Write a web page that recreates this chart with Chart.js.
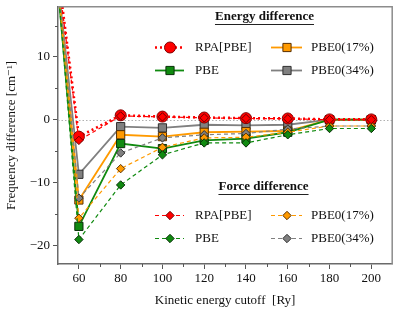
<!DOCTYPE html>
<html>
<head>
<meta charset="utf-8">
<script src="https://cdn.jsdelivr.net/npm/chart.js@4.4.1/dist/chart.umd.min.js"></script>
<style>
  html, body { margin: 0; padding: 0; background: #fff; }
  #wrap { width: 399px; height: 312px; position: relative; }
</style>
</head>
<body>
<div id="wrap"><canvas id="c" width="399" height="312"></canvas></div>
<script>
// ---- data ----
const cutoffs   = [50, 60, 80, 100, 120, 140, 160, 180, 200];
const eRPA      = [23.5, -2.7, 0.7, 0.5, 0.35, 0.25, 0.2, 0.05, 0.05];
const ePBE      = [21, -17.0, -3.8, -4.6, -3.3, -3.0, -2.0, 0, 0];
const ePBE0_17  = [21.5, -12.8, -2.4, -2.7, -2.0, -1.9, -1.8, 0, 0];
const ePBE0_34  = [22, -8.7, -1.1, -1.3, -0.8, -0.9, -0.8, 0, 0];
const fRPA      = [23, -3.3, 0.6, 0.45, 0.3, 0.2, 0.15, 0, 0];
const fPBE      = [21, -19.1, -10.4, -5.6, -3.7, -3.7, -2.4, -1.4, -1.4];
const fPBE0_17  = [21.5, -15.7, -7.8, -4.4, -2.9, -2.8, -2.0, -1.0, -1.0];
const fPBE0_34  = [22, -12.5, -5.3, -2.9, -2.4, -2.2, -1.5, -1.0, -1.0];
const seriesLabels = ['RPA[PBE]', 'PBE', 'PBE0(17%)', 'PBE0(34%)'];
const xMajorTicks = [60, 80, 100, 120, 140, 160, 180, 200];
const xMinorTicks = [70, 90, 110, 130, 150, 170, 190];
const yMajorTicks = [-20, -10, 0, 10];
const yMinorTicks = [-15, -5, 5, 15];
const legendTitles = ['Energy difference', 'Force difference'];

const FONT = "'Liberation Serif', 'DejaVu Serif', serif";
const RED = '#ff0000', GREEN = '#108a10', ORANGE = '#ff9a00', GRAY = '#808080';

function pts(arr) { return cutoffs.map((x, i) => ({x: x, y: arr[i]})); }

function energySet(label, data, color, dark, style, radius, dash, width) {
  return { label, data: pts(data), group: 'energy', borderColor: color, backgroundColor: color,
    borderWidth: width, borderDash: dash, pointStyle: style, pointRadius: radius,
    pointBorderColor: dark, pointBackgroundColor: color, pointBorderWidth: 1, clip: 0, tension: 0 };
}
function forceSet(label, data, color, dark) {
  return { label, data: pts(data), group: 'force', borderColor: color, backgroundColor: color,
    borderWidth: 1.2, borderDash: [4, 3], pointStyle: 'rectRot', pointRadius: 4.2,
    pointBorderColor: dark, pointBackgroundColor: color, pointBorderWidth: 1, clip: 0, tension: 0 };
}

const datasets = [
  forceSet(seriesLabels[0], fRPA, RED, '#700000'),
  forceSet(seriesLabels[1], fPBE, GREEN, '#0a300a'),
  forceSet(seriesLabels[2], fPBE0_17, ORANGE, '#5a3000'),
  forceSet(seriesLabels[3], fPBE0_34, GRAY, '#303030'),
  energySet(seriesLabels[0], eRPA, RED, '#800000', 'circle', 5.5, [2, 3], 2.6),
  energySet(seriesLabels[1], ePBE, GREEN, '#0a300a', 'rect', 5.8, [], 1.8),
  energySet(seriesLabels[2], ePBE0_17, ORANGE, '#5a3000', 'rect', 5.8, [], 1.8),
  energySet(seriesLabels[3], ePBE0_34, GRAY, '#303030', 'rect', 5.8, [], 1.8),
];

const framePlugin = {
  id: 'frame',
  beforeDatasetsDraw(chart) {
    const {ctx, chartArea: a, scales: {y}} = chart;
    ctx.save();
    ctx.strokeStyle = '#b0b0b0';
    ctx.lineWidth = 1;
    ctx.setLineDash([1.5, 2]);
    const y0 = Math.round(y.getPixelForValue(0)) + 0.5;
    ctx.beginPath(); ctx.moveTo(a.left, y0); ctx.lineTo(a.right, y0); ctx.stroke();
    ctx.restore();
  },
  afterDraw(chart) {
    const {ctx, chartArea: a, scales: {x, y}} = chart;
    ctx.save();
    ctx.strokeStyle = '#8c8c8c';
    ctx.lineWidth = 1.5;
    ctx.beginPath();
    ctx.moveTo(a.left, a.top); ctx.lineTo(a.right, a.top); ctx.lineTo(a.right, a.bottom);
    ctx.stroke();
    // minor ticks
    ctx.strokeStyle = '#555';
    ctx.lineWidth = 1;
    ctx.beginPath();
    xMinorTicks.forEach(v => { const px = Math.round(x.getPixelForValue(v)) + 0.5; ctx.moveTo(px, a.bottom); ctx.lineTo(px, a.bottom + 3); });
    yMinorTicks.forEach(v => { const py = Math.round(y.getPixelForValue(v)) + 0.5; ctx.moveTo(a.left, py); ctx.lineTo(a.left - 3, py); });
    ctx.stroke();
    // legends
    const groups = [
      {group: 'energy', title: legendTitles[0], tx: 264.5, ty: 17, rows: [47.5, 70.5]},
      {group: 'force', title: legendTitles[1], tx: 263.5, ty: 187, rows: [215.5, 238.5]},
    ];
    const cols = [{x0: 155, x1: 184, mx: 170, tx: 195}, {x0: 271, x1: 302, mx: 287, tx: 311}];
    const placement = {'RPA[PBE]': [0, 0], 'PBE': [0, 1], 'PBE0(17%)': [1, 0], 'PBE0(34%)': [1, 1]};
    groups.forEach(g => {
      ctx.font = 'bold 13px ' + FONT;
      ctx.fillStyle = '#111';
      ctx.textAlign = 'center';
      ctx.textBaseline = 'middle';
      ctx.fillText(g.title, g.tx, g.ty);
      const w = ctx.measureText(g.title).width;
      ctx.strokeStyle = '#222';
      ctx.lineWidth = 1;
      ctx.setLineDash([]);
      ctx.beginPath(); ctx.moveTo(g.tx - w / 2, g.ty + 7.5); ctx.lineTo(g.tx + w / 2, g.ty + 7.5); ctx.stroke();
      chart.data.datasets.forEach(ds => {
        if (ds.group !== g.group) return;
        const [ci, ri] = placement[ds.label];
        const c = cols[ci], yy = g.rows[ri];
        ctx.save();
        ctx.strokeStyle = ds.borderColor;
        ctx.lineWidth = ds.borderWidth;
        ctx.setLineDash(ds.borderDash || []);
        ctx.beginPath(); ctx.moveTo(c.x0, yy); ctx.lineTo(c.x1, yy); ctx.stroke();
        ctx.setLineDash([]);
        ctx.fillStyle = ds.pointBackgroundColor;
        ctx.strokeStyle = ds.pointBorderColor;
        ctx.lineWidth = ds.pointBorderWidth;
        Chart.helpers.drawPoint(ctx, {pointStyle: ds.pointStyle, radius: ds.pointRadius, rotation: 0, borderWidth: 1}, c.mx, yy);
        ctx.restore();
        ctx.font = '13px ' + FONT;
        ctx.fillStyle = '#111';
        ctx.textAlign = 'left';
        ctx.textBaseline = 'middle';
        ctx.fillText(ds.label, c.tx, yy);
      });
    });
    ctx.restore();
  }
};

new Chart(document.getElementById('c'), {
  type: 'line',
  data: { datasets },
  plugins: [framePlugin],
  options: {
    responsive: false,
    animation: false,
    events: [],
    layout: { padding: { top: 5, right: 5, left: 0, bottom: 0 } },
    plugins: { legend: { display: false }, tooltip: { enabled: false } },
    scales: {
      x: {
        type: 'linear', min: 50, max: 210,
        afterBuildTicks: s => { s.ticks = xMajorTicks.map(v => ({value: v})); },
        afterFit: s => { s.height = 48; s.paddingLeft = 0; s.paddingRight = 0; },
        grid: { drawOnChartArea: false, drawTicks: true, tickLength: 5, color: '#555', lineWidth: 1 },
        border: { color: '#6a6a6a', width: 1.5 },
        ticks: { font: { family: FONT, size: 13 }, color: '#111', padding: 2, maxRotation: 0,
                 callback: v => String(v) },
        title: { display: true, text: 'Kinetic energy cutoff  [Ry]', font: { family: FONT, size: 13 },
                 color: '#111', padding: { top: 0, bottom: 4 } }
      },
      y: {
        type: 'linear', min: -23, max: 18,
        afterBuildTicks: s => { s.ticks = yMajorTicks.map(v => ({value: v})); },
        afterFit: s => { s.width = 58; s.paddingTop = 0; s.paddingBottom = 0; },
        grid: { drawOnChartArea: false, drawTicks: true, tickLength: 5, color: '#555', lineWidth: 1 },
        border: { color: '#6a6a6a', width: 1.5 },
        ticks: { font: { family: FONT, size: 13 }, color: '#111', padding: 3,
                 callback: v => String(v).replace('-', '\u2212') },
        title: { display: true, text: 'Frequency difference [cm\u207B\u00B9]', font: { family: FONT, size: 13 },
                 color: '#111', padding: { top: 4, bottom: 0 } }
      }
    }
  }
});
</script>
</body>
</html>
